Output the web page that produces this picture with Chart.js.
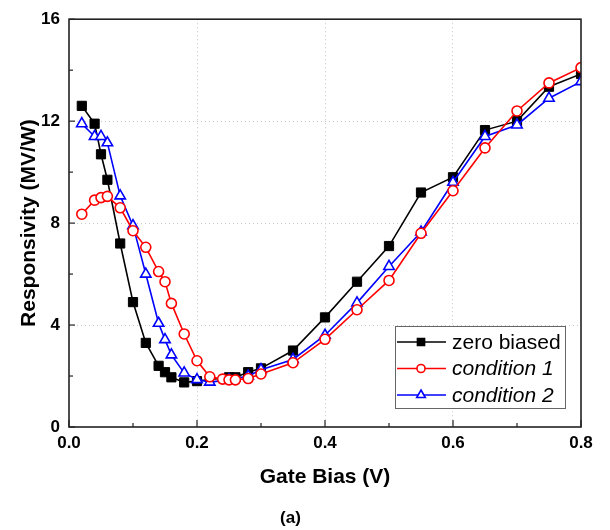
<!DOCTYPE html>
<html>
<head>
<meta charset="utf-8">
<script src="https://cdn.jsdelivr.net/npm/chart.js@4.4.0/dist/chart.umd.min.js"></script>
<style>
  html, body { margin: 0; padding: 0; background: #fff; }
</style>
</head>
<body>
<canvas id="grafica" width="610" height="530"></canvas>
<script>
// data
const seriesNames = ['zero biased', 'condition 1', 'condition 2'];

const biasZero = [0.02, 0.04, 0.05, 0.06, 0.08, 0.10, 0.12, 0.14, 0.15, 0.16, 0.18, 0.20,
  0.25, 0.26, 0.28, 0.30, 0.35, 0.40, 0.45, 0.50, 0.55, 0.60, 0.65, 0.70, 0.75, 0.80];
const respZero = [12.6, 11.9, 10.7, 9.7, 7.2, 4.9, 3.3, 2.4, 2.15, 1.95, 1.75, 1.8,
  1.95, 1.95, 2.15, 2.3, 3.0, 4.3, 5.7, 7.1, 9.2, 9.8, 11.65, 12.0, 13.35, 13.85];

const biasCond1 = [0.02, 0.04, 0.05, 0.06, 0.08, 0.10, 0.12, 0.14, 0.15, 0.16, 0.18, 0.20,
  0.22, 0.24, 0.25, 0.26, 0.28, 0.30, 0.35, 0.40, 0.45, 0.50, 0.55, 0.60, 0.65, 0.70, 0.75, 0.80];
const respCond1 = [8.35, 8.9, 9.0, 9.05, 8.6, 7.7, 7.05, 6.1, 5.7, 4.85, 3.65, 2.6,
  1.97, 1.88, 1.85, 1.85, 1.9, 2.08, 2.52, 3.44, 4.6, 5.75, 7.6, 9.27, 10.95, 12.4, 13.5, 14.1];

const biasCond2 = [0.02, 0.04, 0.05, 0.06, 0.08, 0.10, 0.12, 0.14, 0.15, 0.16, 0.18, 0.20,
  0.22, 0.25, 0.28, 0.30, 0.35, 0.40, 0.45, 0.50, 0.55, 0.60, 0.65, 0.70, 0.75, 0.80];
const respCond2 = [11.9, 11.4, 11.4, 11.15, 9.07, 7.9, 6.0, 4.07, 3.43, 2.83, 2.12, 1.86,
  1.76, 1.85, 2.0, 2.25, 2.65, 3.6, 4.87, 6.3, 7.65, 9.6, 11.4, 11.85, 12.9, 13.55];

const xMajorTicks = [0.0, 0.2, 0.4, 0.6, 0.8];
const yMajorTicks = [0, 4, 8, 12, 16];

const legendItalic = [false, true, true];

const FONT = "'Liberation Sans', Arial, sans-serif";

function toPoints(xs, ys) {
  return xs.map((v, i) => ({ x: v, y: ys[i] }));
}

function isMajor(v, list) {
  return list.some(m => Math.abs(m - v) < 1e-6);
}

// frame + inward tick marks
const frameTicks = {
  id: 'frameTicks',
  afterDatasetsDraw(chart) {
    const { ctx, chartArea: a, scales } = chart;
    ctx.save();
    ctx.strokeStyle = '#222';
    ctx.lineWidth = 1.2;
    scales.x.ticks.forEach(t => {
      const px = scales.x.getPixelForValue(t.value);
      const len = isMajor(t.value, xMajorTicks) ? 7 : 4;
      ctx.beginPath();
      ctx.moveTo(px, a.bottom);
      ctx.lineTo(px, a.bottom - len);
      ctx.stroke();
    });
    scales.y.ticks.forEach(t => {
      const py = scales.y.getPixelForValue(t.value);
      const len = isMajor(t.value, yMajorTicks) ? 6 : 4;
      ctx.beginPath();
      ctx.moveTo(a.left, py);
      ctx.lineTo(a.left + len, py);
      ctx.stroke();
    });
    ctx.lineWidth = 1.6;
    ctx.strokeRect(a.left, a.top, a.right - a.left, a.bottom - a.top);
    ctx.restore();
  }
};

// boxed legend in the lower right corner of the plot
const boxLegend = {
  id: 'boxLegend',
  afterDraw(chart) {
    const { ctx, chartArea: a } = chart;
    const w = 170, h = 82;
    const left = a.right - 186, top = a.bottom - 101;
    ctx.save();
    ctx.fillStyle = '#fff';
    ctx.fillRect(left, top, w, h);
    ctx.strokeStyle = '#666';
    ctx.lineWidth = 1;
    ctx.strokeRect(left + 0.5, top + 0.5, w, h);

    const legendSets = [0, 1, 2].map(i => chart.data.datasets.find(d => d.label === seriesNames[i]));
    legendSets.forEach((ds, i) => {
      const cy = top + 16 + i * 26.5;
      ctx.strokeStyle = ds.borderColor;
      ctx.lineWidth = 1.6;
      ctx.beginPath();
      ctx.moveTo(left + 2, cy);
      ctx.lineTo(left + 51, cy);
      ctx.stroke();
      ctx.fillStyle = ds.pointBackgroundColor;
      ctx.strokeStyle = ds.borderColor;
      Chart.helpers.drawPoint(ctx, {
        pointStyle: ds.pointStyle,
        radius: ds.pointStyle === 'triangle' ? 5 : (ds.pointStyle === 'rect' ? 5 : 4),
        rotation: 0,
        borderWidth: 1.6
      }, left + 26, cy);

      ctx.fillStyle = '#000';
      ctx.font = (legendItalic[i] ? 'italic ' : '') + '21px ' + FONT;
      ctx.textBaseline = 'middle';
      ctx.textAlign = 'left';
      ctx.fillText(ds.label, left + 57, cy + 1);
    });
    ctx.restore();
  }
};

Chart.defaults.color = '#000';
Chart.defaults.font.family = FONT;

const gridColor = (list) => (c) => {
  if (c.tick && isMajor(c.tick.value, list) && c.index > 0 && c.index < c.scale.ticks.length - 1) {
    return '#c8c8c8';
  }
  return 'rgba(0,0,0,0)';
};

const ctx = document.getElementById('grafica').getContext('2d');
new Chart(ctx, {
  type: 'line',
  data: {
    datasets: [
      {
        label: seriesNames[1],
        data: toPoints(biasCond1, respCond1),
        borderColor: '#ff0000',
        borderWidth: 1.6,
        pointStyle: 'circle',
        pointRadius: 5,
        pointBorderWidth: 1.6,
        pointBackgroundColor: '#ffffff',
        pointBorderColor: '#ff0000',
        order: 0
      },
      {
        label: seriesNames[2],
        data: toPoints(biasCond2, respCond2),
        borderColor: '#0000ff',
        borderWidth: 1.6,
        pointStyle: 'triangle',
        pointRadius: 6,
        pointBorderWidth: 1.6,
        pointBackgroundColor: '#ffffff',
        pointBorderColor: '#0000ff',
        order: 1
      },
      {
        label: seriesNames[0],
        data: toPoints(biasZero, respZero),
        borderColor: '#000000',
        borderWidth: 1.6,
        pointStyle: 'rect',
        pointRadius: 6.5,
        pointBorderWidth: 1,
        pointBackgroundColor: '#000000',
        pointBorderColor: '#000000',
        order: 2
      }
    ]
  },
  options: {
    responsive: false,
    animation: false,
    devicePixelRatio: 1,
    layout: { padding: { left: 0, right: 29, top: 15, bottom: 0 } },
    elements: { line: { tension: 0, fill: false } },
    plugins: {
      legend: { display: false },
      tooltip: { enabled: false },
      title: {
        display: true,
        position: 'bottom',
        text: '(a)',
        color: '#000',
        font: { size: 17, weight: 'bold', family: FONT },
        padding: { top: 0, bottom: 1 }
      }
    },
    scales: {
      x: {
        type: 'linear',
        min: 0,
        max: 0.8,
        afterFit: (s) => { s.height = 81.6; },
        grid: { color: gridColor(xMajorTicks), lineWidth: 1, drawTicks: false },
        border: { display: false, dash: [1, 3] },
        ticks: {
          stepSize: 0.1,
          padding: 6,
          maxRotation: 0,
          autoSkip: false,
          font: { size: 17, weight: 'bold', family: FONT },
          callback: (v) => isMajor(v, xMajorTicks) ? v.toFixed(1) : ''
        },
        title: {
          display: true,
          text: 'Gate Bias (V)',
          font: { size: 21, weight: 'bold', family: FONT },
          padding: { top: 0, bottom: 19 }
        }
      },
      y: {
        min: 0,
        max: 16,
        afterFit: (s) => { s.width = 69; },
        grid: { color: gridColor(yMajorTicks), lineWidth: 1, drawTicks: false },
        border: { display: false, dash: [1, 3] },
        ticks: {
          stepSize: 2,
          padding: 9,
          autoSkip: false,
          font: { size: 17, weight: 'bold', family: FONT },
          callback: (v) => isMajor(v, yMajorTicks) ? String(v) : ''
        },
        title: {
          display: true,
          text: 'Responsivity (MV/W)',
          font: { size: 21, weight: 'bold', family: FONT },
          padding: { top: 17, bottom: 0 }
        }
      }
    }
  },
  plugins: [frameTicks, boxLegend]
});
</script>
</body>
</html>
